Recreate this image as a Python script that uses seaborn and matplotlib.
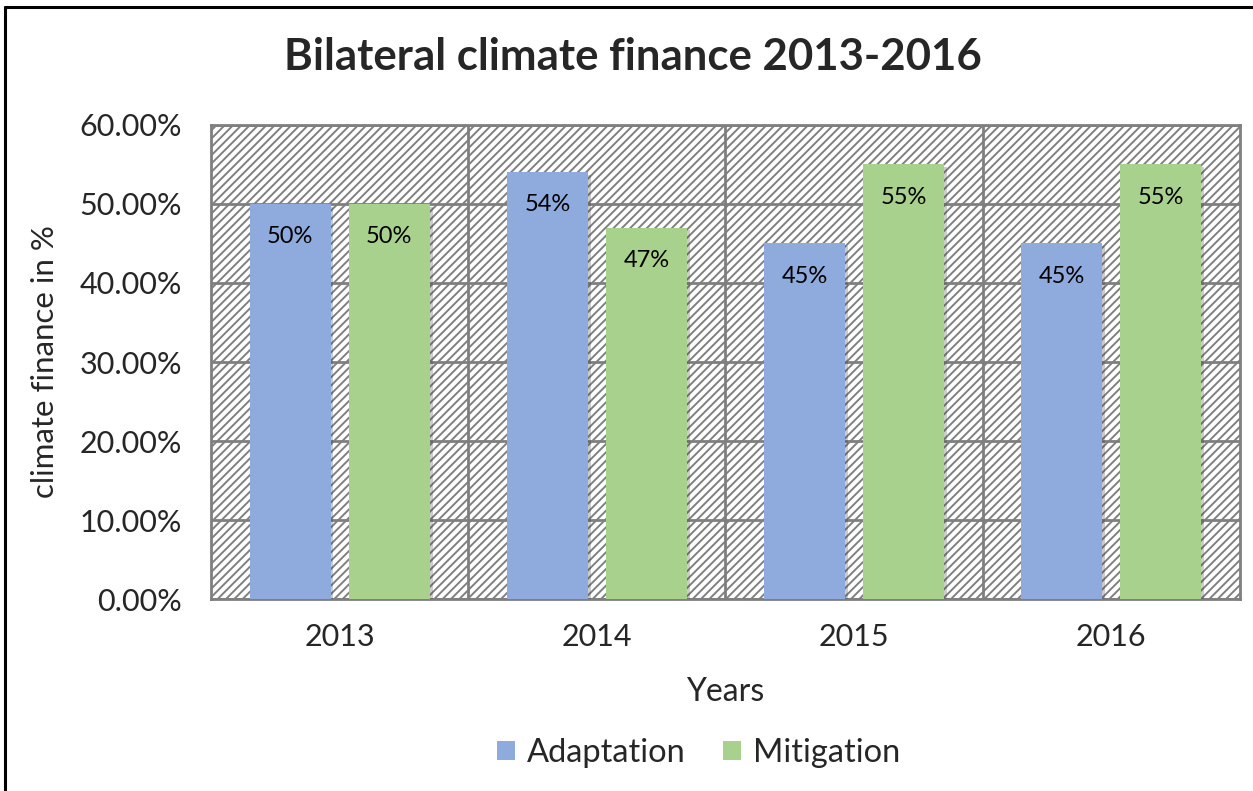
import matplotlib
matplotlib.use('Agg')
import matplotlib.pyplot as plt
import matplotlib.patheffects as pe
from matplotlib.patches import Rectangle
from matplotlib.lines import Line2D
from matplotlib.ticker import PercentFormatter, FixedLocator
import pandas as pd
import seaborn as sns

# Data
years = ['2013', '2014', '2015', '2016']
adaptation = [50, 54, 45, 45]
mitigation = [50, 47, 55, 55]
series = ['Adaptation', 'Mitigation']
colors = ['#8faadc', '#a9d18e']

df = pd.DataFrame({
    'year': years * 2,
    'share': adaptation + mitigation,
    'type': ['Adaptation'] * len(years) + ['Mitigation'] * len(years),
})

sns.set_style('white')
plt.rcParams['font.family'] = ['Lato', 'DejaVu Sans']
plt.rcParams['hatch.linewidth'] = 1.4

fig = plt.figure(figsize=(12.53, 7.91), dpi=100)
ax = fig.add_axes([0.1684, 0.2427, 0.8212, 0.5993])

# hatched plot background
ax.add_patch(Rectangle((0, 0), 1, 1, transform=ax.transAxes, facecolor='white',
                       edgecolor='#808080', hatch='////', lw=0, zorder=0))

sns.barplot(data=df, x='year', y='share', hue='type', hue_order=series,
            palette=colors, width=0.77, gap=0.18, ax=ax, zorder=3,
            saturation=1, linewidth=0, edgecolor='none', legend=True)

for bars in ax.containers:
    for b in bars:
        b.set_path_effects([pe.SimplePatchShadow(offset=(2, -2), alpha=0.25), pe.Normal()])
    ax.bar_label(bars, labels=[f'{v:.0f}%' for v in bars.datavalues],
                 padding=-31, fontsize=17, color='black', zorder=5)

ax.set_ylim(0, 60)
ax.set_xlim(-0.5, 3.5)
ax.yaxis.set_major_locator(FixedLocator([0, 10, 20, 30, 40, 50, 60]))
ax.yaxis.set_major_formatter(PercentFormatter(decimals=2))
ax.xaxis.set_minor_locator(FixedLocator([0.5, 1.5, 2.5]))
ax.grid(True, axis='y', which='major', color='#7f7f7f', lw=2, zorder=1)
ax.grid(True, axis='x', which='minor', color='#7f7f7f', lw=2, zorder=1)
ax.grid(False, axis='x', which='major')
ax.set_axisbelow(True)
for s in ax.spines.values():
    s.set_color('#7f7f7f')
    s.set_linewidth(2)
ax.tick_params(axis='both', which='both', length=0, labelsize=22)
ax.tick_params(axis='y', pad=21)
ax.tick_params(axis='x', pad=17)

ax.set_xlabel('Years', fontsize=23)
ax.set_ylabel('climate finance in %', fontsize=22.5)
ax.xaxis.set_label_coords(0.5, -0.196)
ax.xaxis.label.set_va('center')
ax.yaxis.set_label_coords(-0.161, 0.5)
ax.yaxis.label.set_va('center')
fig.text(0.505, 1 - 57 / 791, 'Bilateral climate finance 2013-2016', fontsize=31.5,
         fontweight='bold', ha='center', va='center')

ax.legend(title=None, loc='center', bbox_to_anchor=(0.474, -0.325), ncol=2,
          frameon=False, fontsize=23.5, handlelength=0.55, handleheight=0.55,
          handletextpad=0.37, columnspacing=1.13)

# outer frame (left and top edges)
fig.add_artist(Line2D([0.004, 0.004], [0, 0.991], transform=fig.transFigure, color='black', lw=2.2))
fig.add_artist(Line2D([0.004, 1.0], [0.991, 0.991], transform=fig.transFigure, color='black', lw=2.2))

fig.savefig('out.png', dpi=100)
